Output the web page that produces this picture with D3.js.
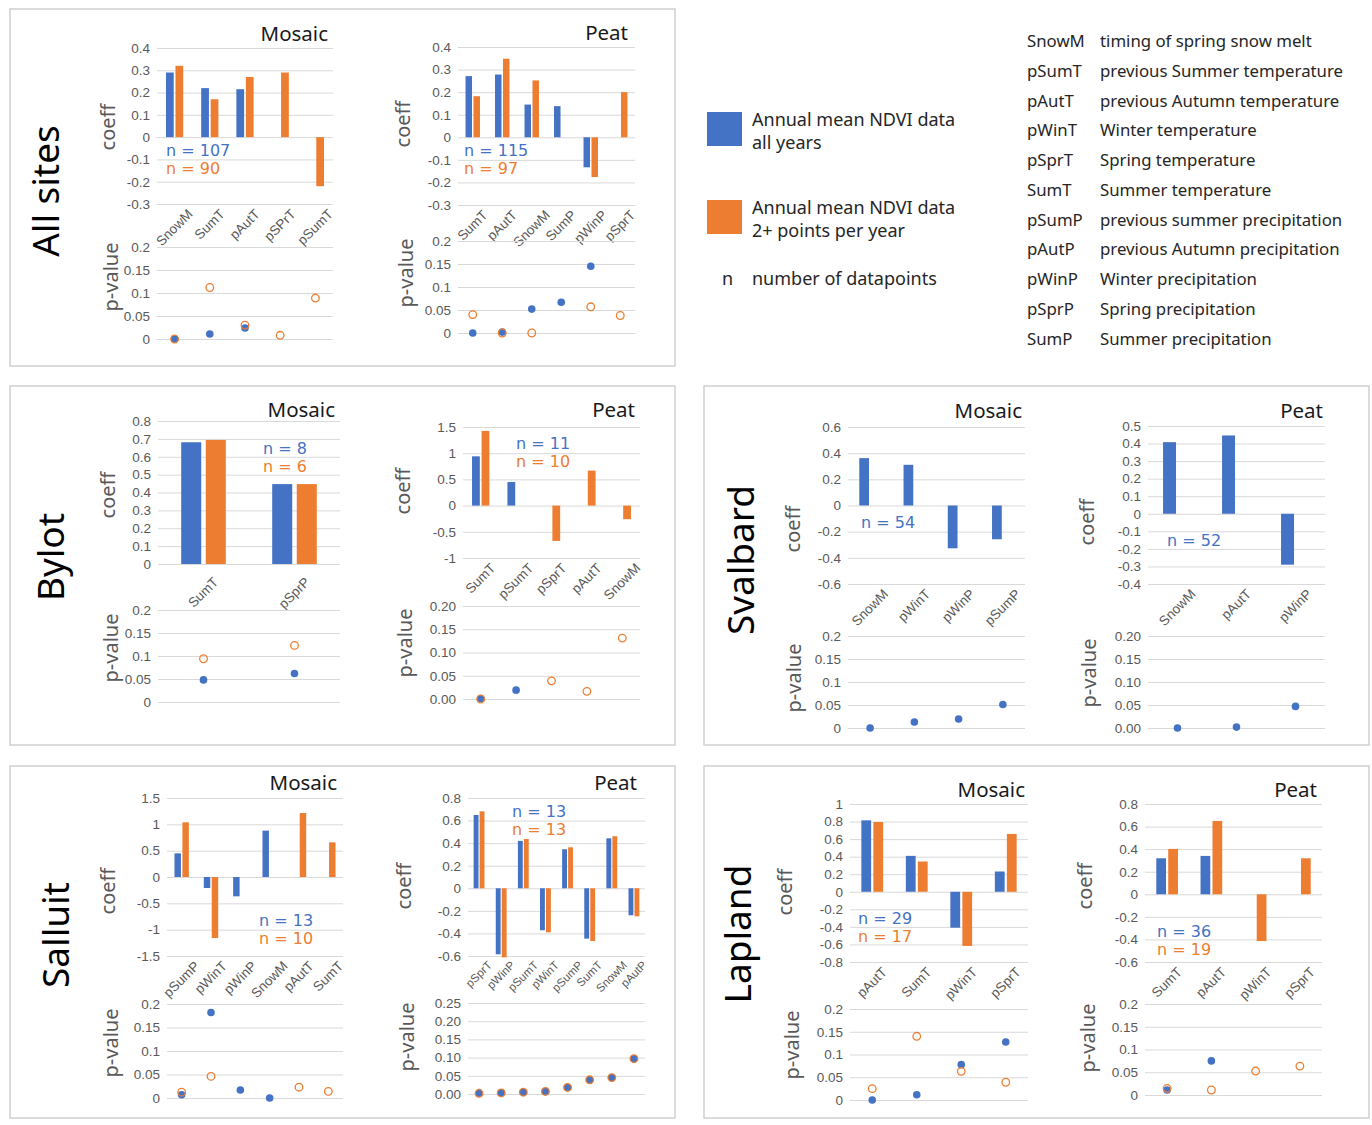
<!DOCTYPE html>
<html>
<head>
<meta charset="utf-8">
<script src="https://cdn.jsdelivr.net/npm/d3@7"></script>
<style>
  body { margin: 0; background: #fff; }
  svg { display: block; }
</style>
</head>
<body>
<svg id="fig" width="1372" height="1125"></svg>
<script>
/* ========================================
   NDVI climate drivers - coefficient + p-value panels
   ======================================== */

const BLUE = '#4472C4';
const ORANGE = '#ED7D31';

// === Data ===
const siteNames = ['All sites', 'Bylot', 'Svalbard', 'Salluit', 'Lapland'];
const subTitles = ['Mosaic', 'Peat'];

// All sites
const allMosaicCats = ['SnowM', 'SumT', 'pAutT', 'pSPrT', 'pSumT'];
const allMosaicCoeffAll = [0.29, 0.22, 0.215, null, null];
const allMosaicCoeff2p = [0.32, 0.17, 0.27, 0.29, -0.22];
const allMosaicPAll = [0.0, 0.011, 0.024, null, null];
const allMosaicP2p = [0.0, 0.112, 0.03, 0.008, 0.089];
const allMosaicN = [107, 90];

const allPeatCats = ['SumT', 'pAutT', 'SnowM', 'SumP', 'pWinP', 'pSprT'];
const allPeatCoeffAll = [0.271, 0.278, 0.145, 0.138, -0.133, null];
const allPeatCoeff2p = [0.182, 0.348, 0.252, null, -0.176, 0.2];
const allPeatPAll = [0.0, 0.002, 0.052, 0.067, 0.145, null];
const allPeatP2p = [0.04, 0.0, 0.0, null, 0.057, 0.038];
const allPeatN = [115, 97];

// Bylot
const bylotMosaicCats = ['SumT', 'pSprP'];
const bylotMosaicCoeffAll = [0.681, 0.447];
const bylotMosaicCoeff2p = [0.694, 0.447];
const bylotMosaicPAll = [0.048, 0.062];
const bylotMosaicP2p = [0.094, 0.123];
const bylotMosaicN = [8, 6];

const bylotPeatCats = ['SumT', 'pSumT', 'pSprT', 'pAutT', 'SnowM'];
const bylotPeatCoeffAll = [0.94, 0.45, null, null, null];
const bylotPeatCoeff2p = [1.425, null, -0.674, 0.668, -0.26];
const bylotPeatPAll = [0.001, 0.019, null, null, null];
const bylotPeatP2p = [0.0, null, 0.039, 0.0165, 0.131];
const bylotPeatN = [11, 10];

// Svalbard (only all-years data)
const svalMosaicCats = ['SnowM', 'pWinT', 'pWinP', 'pSumP'];
const svalMosaicCoeffAll = [0.362, 0.311, -0.327, -0.258];
const svalMosaicPAll = [0.0, 0.013, 0.0196, 0.051];
const svalMosaicN = [54];

const svalPeatCats = ['SnowM', 'pAutT', 'pWinP'];
const svalPeatCoeffAll = [0.408, 0.446, -0.29];
const svalPeatPAll = [0.0, 0.002, 0.047];
const svalPeatN = [52];

// Salluit
const sallMosaicCats = ['pSumP', 'pWinT', 'pWinP', 'SnowM', 'pAutT', 'SumT'];
const sallMosaicCoeffAll = [0.449, -0.209, -0.367, 0.88, null, null];
const sallMosaicCoeff2p = [1.038, -1.158, null, null, 1.215, 0.658];
const sallMosaicPAll = [0.007, 0.182, 0.017, 0.0, null, null];
const sallMosaicP2p = [0.0125, 0.046, null, null, 0.023, 0.014];
const sallMosaicN = [13, 10];

const sallPeatCats = ['pSprT', 'pWinP', 'pSumT', 'pWinT', 'pSumP', 'SumT', 'SnowM', 'pAutP'];
const sallPeatCoeffAll = [0.65, -0.585, 0.42, -0.372, 0.346, -0.446, 0.443, -0.239];
const sallPeatCoeff2p = [0.682, -0.612, 0.437, -0.39, 0.363, -0.467, 0.461, -0.248];
const sallPeatPAll = [0.002, 0.003, 0.005, 0.007, 0.018, 0.039, 0.045, 0.097];
const sallPeatP2p = [0.002, 0.003, 0.005, 0.007, 0.018, 0.039, 0.045, 0.097];
const sallPeatN = [13, 13];

// Lapland
const lapMosaicCats = ['pAutT', 'SumT', 'pWinT', 'pSprT'];
const lapMosaicCoeffAll = [0.814, 0.409, -0.409, 0.231];
const lapMosaicCoeff2p = [0.795, 0.345, -0.617, 0.659];
const lapMosaicPAll = [0.0, 0.0117, 0.0777, 0.1275];
const lapMosaicP2p = [0.025, 0.14, 0.063, 0.039];
const lapMosaicN = [29, 17];

const lapPeatCats = ['SumT', 'pAutT', 'pWinT', 'pSprT'];
const lapPeatCoeffAll = [0.319, 0.34, null, null];
const lapPeatCoeff2p = [0.402, 0.65, -0.414, 0.319];
const lapPeatPAll = [0.011, 0.075, null, null];
const lapPeatP2p = [0.0146, 0.011, 0.0526, 0.0635];
const lapPeatN = [36, 19];

// Tick values
const ticksM03to04 = [-0.3, -0.2, -0.1, 0, 0.1, 0.2, 0.3, 0.4];
const ticks0to08 = [0, 0.1, 0.2, 0.3, 0.4, 0.5, 0.6, 0.7, 0.8];
const ticksM1to15 = [-1, -0.5, 0, 0.5, 1, 1.5];
const ticksM06to06 = [-0.6, -0.4, -0.2, 0, 0.2, 0.4, 0.6];
const ticksM04to05 = [-0.4, -0.3, -0.2, -0.1, 0, 0.1, 0.2, 0.3, 0.4, 0.5];
const ticksM15to15 = [-1.5, -1, -0.5, 0, 0.5, 1, 1.5];
const ticksM06to08 = [-0.6, -0.4, -0.2, 0, 0.2, 0.4, 0.6, 0.8];
const ticksM08to1 = [-0.8, -0.6, -0.4, -0.2, 0, 0.2, 0.4, 0.6, 0.8, 1];
const pTicks020 = [0, 0.05, 0.1, 0.15, 0.2];
const pTicks025 = [0, 0.05, 0.1, 0.15, 0.2, 0.25];

// Legend
const legendSeries = [
    ['Annual mean NDVI data', 'all years'],
    ['Annual mean NDVI data', '2+ points per year']
];
const legendN = ['n', 'number of datapoints'];
const abbrevCodes = ['SnowM', 'pSumT', 'pAutT', 'pWinT', 'pSprT', 'SumT', 'pSumP', 'pAutP', 'pWinP', 'pSprP', 'SumP'];
const abbrevTexts = [
    'timing of spring snow melt', 'previous Summer temperature', 'previous Autumn temperature',
    'Winter temperature', 'Spring temperature', 'Summer temperature',
    'previous summer precipitation', 'previous Autumn precipitation', 'Winter precipitation',
    'Spring precipitation', 'Summer precipitation'
];

// === Chart specs (data refs) ===
const charts = [
    { cats: allMosaicCats, coeff: [allMosaicCoeffAll, allMosaicCoeff2p], p: [allMosaicPAll, allMosaicP2p], n: allMosaicN, cTicks: ticksM03to04, pTicks: pTicks020, pFixed: false, title: subTitles[0] },
    { cats: allPeatCats, coeff: [allPeatCoeffAll, allPeatCoeff2p], p: [allPeatPAll, allPeatP2p], n: allPeatN, cTicks: ticksM03to04, pTicks: pTicks020, pFixed: false, title: subTitles[1] },
    { cats: bylotMosaicCats, coeff: [bylotMosaicCoeffAll, bylotMosaicCoeff2p], p: [bylotMosaicPAll, bylotMosaicP2p], n: bylotMosaicN, cTicks: ticks0to08, pTicks: pTicks020, pFixed: false, title: subTitles[0] },
    { cats: bylotPeatCats, coeff: [bylotPeatCoeffAll, bylotPeatCoeff2p], p: [bylotPeatPAll, bylotPeatP2p], n: bylotPeatN, cTicks: ticksM1to15, pTicks: pTicks020, pFixed: true, title: subTitles[1] },
    { cats: svalMosaicCats, coeff: [svalMosaicCoeffAll, null], p: [svalMosaicPAll, null], n: svalMosaicN, cTicks: ticksM06to06, pTicks: pTicks020, pFixed: false, title: subTitles[0] },
    { cats: svalPeatCats, coeff: [svalPeatCoeffAll, null], p: [svalPeatPAll, null], n: svalPeatN, cTicks: ticksM04to05, pTicks: pTicks020, pFixed: true, title: subTitles[1] },
    { cats: sallMosaicCats, coeff: [sallMosaicCoeffAll, sallMosaicCoeff2p], p: [sallMosaicPAll, sallMosaicP2p], n: sallMosaicN, cTicks: ticksM15to15, pTicks: pTicks020, pFixed: false, title: subTitles[0] },
    { cats: sallPeatCats, coeff: [sallPeatCoeffAll, sallPeatCoeff2p], p: [sallPeatPAll, sallPeatP2p], n: sallPeatN, cTicks: ticksM06to08, pTicks: pTicks025, pFixed: true, title: subTitles[1] },
    { cats: lapMosaicCats, coeff: [lapMosaicCoeffAll, lapMosaicCoeff2p], p: [lapMosaicPAll, lapMosaicP2p], n: lapMosaicN, cTicks: ticksM08to1, pTicks: pTicks020, pFixed: false, title: subTitles[0] },
    { cats: lapPeatCats, coeff: [lapPeatCoeffAll, lapPeatCoeff2p], p: [lapPeatPAll, lapPeatP2p], n: lapPeatN, cTicks: ticksM06to08, pTicks: pTicks020, pFixed: false, title: subTitles[1] }
];

// === Layout (pixel positions per chart) ===
const layouts = [
    { x0: 157, x1: 333, cTop: 48, cBot: 204, pTop: 247, pBot: 339, tx: 328, ty: 41, nx: 166, ny: 156, cax: 108, cay: 127, pax: 111, pay: 277 },
    { x0: 458, x1: 635, cTop: 47, cBot: 205, pTop: 241, pBot: 333, tx: 628, ty: 40, nx: 464, ny: 156, cax: 403, cay: 124, pax: 406, pay: 273 },
    { x0: 158, x1: 340, cTop: 421, cBot: 564, pTop: 610, pBot: 702, tx: 335, ty: 417, nx: 263, ny: 454, cax: 108, cay: 495, pax: 111, pay: 648, gap: 12 },
    { x0: 463, x1: 640, cTop: 427, cBot: 558, pTop: 606, pBot: 699, tx: 635, ty: 417, nx: 516, ny: 449, cax: 403, cay: 491, pax: 405, pay: 643 },
    { x0: 848, x1: 1025, cTop: 427, cBot: 584, pTop: 636, pBot: 728, tx: 1022, ty: 418, nx: 861, ny: 528, cax: 793, cay: 529, pax: 794, pay: 678 },
    { x0: 1148, x1: 1325, cTop: 426, cBot: 584, pTop: 636, pBot: 728, tx: 1323, ty: 418, nx: 1167, ny: 546, cax: 1087, cay: 522, pax: 1089, pay: 673 },
    { x0: 167, x1: 343, cTop: 798, cBot: 956, pTop: 1004, pBot: 1098, tx: 337, ty: 790, nx: 259, ny: 926, cax: 108, cay: 891, pax: 111, pay: 1043 },
    { x0: 468, x1: 645, cTop: 798, cBot: 956, pTop: 1003, pBot: 1094, tx: 637, ty: 790, nx: 512, ny: 817, cax: 404, cay: 886, pax: 407, pay: 1037, catFs: 11.5 },
    { x0: 850, x1: 1028, cTop: 804, cBot: 962, pTop: 1009, pBot: 1100, tx: 1025, ty: 797, nx: 858, ny: 924, cax: 785, cay: 892, pax: 792, pay: 1045 },
    { x0: 1145, x1: 1322, cTop: 804, cBot: 962, pTop: 1004, pBot: 1095, tx: 1317, ty: 797, nx: 1157, ny: 937, cax: 1085, cay: 886, pax: 1088, pay: 1038 }
];

const panelBoxes = [
    { x: 10, y: 9, w: 665, h: 357 },
    { x: 10, y: 386, w: 665, h: 359 },
    { x: 704, y: 386, w: 665, h: 359 },
    { x: 10, y: 766, w: 665, h: 352 },
    { x: 704, y: 766, w: 665, h: 352 }
];
const siteLabelPos = [[46, 191], [51, 557], [741, 560], [56, 935], [738, 934]];

const TICK_FONT = "'Liberation Sans', Arial, sans-serif";
const TEXT_FONT = "'Noto Sans', 'Open Sans', sans-serif";
const GRID = '#d9d9d9';
const GRAY = '#595959';

const svg = d3.select('#fig');

function fmtGeneral(d) {
    return String(+d.toFixed(3));
}

function styleGridAxis(axisG) {
    axisG.select('.domain').remove();
    axisG.selectAll('line').attr('stroke', GRID).attr('stroke-width', 1);
    axisG.selectAll('text')
        .attr('fill', GRAY)
        .style('font-family', TICK_FONT)
        .style('font-size', '13.5px');
}

// === Panels ===
panelBoxes.forEach(b => {
    svg.append('rect')
        .attr('x', b.x).attr('y', b.y)
        .attr('width', b.w).attr('height', b.h)
        .attr('fill', 'none')
        .attr('stroke', '#d0d0d0')
        .attr('stroke-width', 1.5);
});

siteNames.forEach((name, i) => {
    const [sx, sy] = siteLabelPos[i];
    svg.append('text')
        .attr('transform', `translate(${sx},${sy}) rotate(-90)`)
        .attr('text-anchor', 'middle')
        .attr('dy', '0.35em')
        .style('font-family', TEXT_FONT)
        .style('font-size', '37px')
        .attr('fill', '#000')
        .text(name);
});

// === Chart drawing ===
function drawChart(spec, lay) {
    const g = svg.append('g');
    const width = lay.x1 - lay.x0;
    const cDomain = d3.extent(spec.cTicks);
    const pDomain = d3.extent(spec.pTicks);

    const x = d3.scaleBand().domain(spec.cats).range([lay.x0, lay.x1]);
    const y = d3.scaleLinear().domain(cDomain).range([lay.cBot, lay.cTop]);
    const yP = d3.scaleLinear().domain(pDomain).range([lay.pBot, lay.pTop]);

    // Coefficient grid + ticks
    const cAxis = g.append('g')
        .attr('transform', `translate(${lay.x0},0)`)
        .call(d3.axisLeft(y).tickValues(spec.cTicks).tickSize(-width).tickPadding(7).tickFormat(fmtGeneral));
    styleGridAxis(cAxis);

    // Bars
    const bw = x.bandwidth();
    const barW = bw * 0.22;
    const barGap = bw * 0.05;
    spec.coeff.forEach((series, s) => {
        if (!series) return;
        const rows = spec.cats.map((c, i) => ({ c, v: series[i] })).filter(d => d.v !== null);
        g.append('g').selectAll('rect')
            .data(rows)
            .join('rect')
            .attr('x', d => x(d.c) + bw / 2 + (s === 0 ? -barGap / 2 - barW : barGap / 2))
            .attr('y', d => y(Math.max(d.v, 0)))
            .attr('width', barW)
            .attr('height', d => Math.abs(y(d.v) - y(0)))
            .attr('fill', s === 0 ? BLUE : ORANGE);
    });

    // Category labels (rotated, centred under each category)
    const catFs = lay.catFs || 13.5;
    const gap = lay.gap || 4;
    const xAxis = g.append('g')
        .attr('transform', `translate(0,${lay.cBot})`)
        .call(d3.axisBottom(x).tickSize(0));
    xAxis.select('.domain').remove();
    xAxis.selectAll('text')
        .attr('fill', GRAY)
        .style('font-family', TICK_FONT)
        .style('font-size', catFs + 'px')
        .attr('text-anchor', 'end')
        .attr('x', 0).attr('y', 0).attr('dy', 0)
        .each(function () {
            const len = this.getComputedTextLength();
            const asc = 0.72 * catFs, desc = 0.1 * catFs;
            const dx = 0.3535 * (len + asc - desc);
            const dy = gap + 0.707 * asc;
            d3.select(this).attr('transform', `translate(${dx},${dy}) rotate(-45)`);
        });

    // p-value grid + ticks
    const pAxis = g.append('g')
        .attr('transform', `translate(${lay.x0},0)`)
        .call(d3.axisLeft(yP).tickValues(spec.pTicks).tickSize(-width).tickPadding(7)
            .tickFormat(spec.pFixed ? d3.format('.2f') : fmtGeneral));
    styleGridAxis(pAxis);

    // p-value markers
    spec.p.forEach((series, s) => {
        if (!series) return;
        const rows = spec.cats.map((c, i) => ({ c, v: series[i] })).filter(d => d.v !== null);
        g.append('g').selectAll('circle')
            .data(rows)
            .join('circle')
            .attr('cx', d => x(d.c) + bw / 2)
            .attr('cy', d => yP(d.v))
            .attr('r', 3.8)
            .attr('fill', s === 0 ? BLUE : 'none')
            .attr('stroke', s === 0 ? 'none' : ORANGE)
            .attr('stroke-width', 1.3);
    });

    // Titles
    g.append('text')
        .attr('x', lay.tx).attr('y', lay.ty)
        .attr('text-anchor', 'end')
        .style('font-family', TEXT_FONT)
        .style('font-size', '20.5px')
        .attr('fill', '#1a1a1a')
        .text(spec.title);

    [['coeff', lay.cax, lay.cay], ['p-value', lay.pax, lay.pay]].forEach(([label, ax, ay]) => {
        g.append('text')
            .attr('transform', `translate(${ax},${ay}) rotate(-90)`)
            .attr('text-anchor', 'middle')
            .attr('dy', '0.35em')
            .style('font-family', TEXT_FONT)
            .style('font-size', '20px')
            .attr('fill', GRAY)
            .text(label);
    });

    // n labels
    spec.n.forEach((n, i) => {
        g.append('text')
            .attr('x', lay.nx).attr('y', lay.ny + i * 18)
            .style('font-family', "'DejaVu Sans', sans-serif")
            .style('font-size', '16px')
            .attr('fill', i === 0 ? BLUE : ORANGE)
            .text(`n = ${n}`);
    });
}

charts.forEach((spec, i) => drawChart(spec, layouts[i]));

// === Legend ===
const legend = svg.append('g').style('font-family', TEXT_FONT).attr('fill', '#262626');
const swatchY = [112, 200];
legendSeries.forEach((lines, i) => {
    legend.append('rect')
        .attr('x', 707).attr('y', swatchY[i])
        .attr('width', 35).attr('height', 34)
        .attr('fill', i === 0 ? BLUE : ORANGE);
    lines.forEach((line, j) => {
        legend.append('text')
            .attr('x', 752).attr('y', swatchY[i] + 14 + j * 22.5)
            .style('font-size', '18px')
            .text(line);
    });
});
legend.append('text').attr('x', 722).attr('y', 285).style('font-size', '18px').text(legendN[0]);
legend.append('text').attr('x', 752).attr('y', 285).style('font-size', '18px').text(legendN[1]);

abbrevCodes.forEach((code, i) => {
    const by = 47 + i * 29.77;
    legend.append('text').attr('x', 1027).attr('y', by).style('font-size', '16.8px').text(code);
    legend.append('text').attr('x', 1100).attr('y', by).style('font-size', '16.8px').text(abbrevTexts[i]);
});
</script>
</body>
</html>
